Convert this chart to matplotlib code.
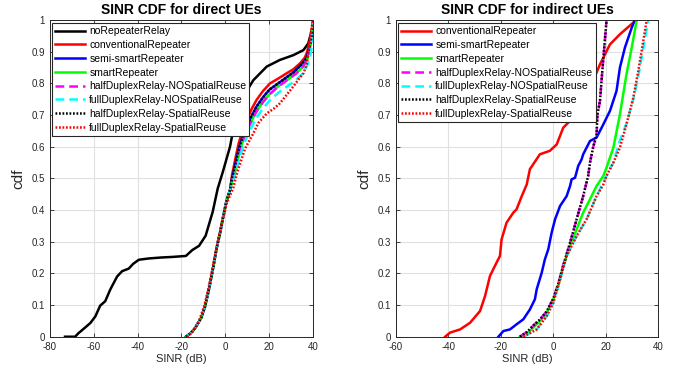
import numpy as np
import matplotlib
matplotlib.use("Agg")
import matplotlib.pyplot as plt

plt.rcParams['font.family'] = ['Liberation Sans', 'DejaVu Sans']
plt.rcParams['axes.unicode_minus'] = False

# ---------------- direct UEs (left) ----------------
d_norelay_x = [-73, -68.4, -66.9, -64, -61.5, -59.2, -57, -54.7, -52.4, -49.3, -47, -44, -42, -39.4,
               -35, -29.5, -24, -18, -15, -12, -9, -5.8, -3.5, -1.2, 2.1, 4.4, 8.1, 12.7, 18.8,
               24.8, 30.9, 35.5, 37.7, 39.3, 40]
d_norelay_y = [0, 0, 0.011, 0.028, 0.043, 0.064, 0.098, 0.112, 0.149, 0.19, 0.207, 0.215, 0.23, 0.243,
               0.247, 0.25, 0.252, 0.255, 0.274, 0.287, 0.319, 0.394, 0.468, 0.52, 0.60, 0.684, 0.758,
               0.81, 0.853, 0.874, 0.889, 0.905, 0.926, 0.968, 1.0]

d_low_x = [-18, -16, -13.8, -11, -9.3, -7.5, -5.5, -4, -2.5, -1, 0.6, 2.1]
d_low_y = [0, 0.01, 0.027, 0.06, 0.095, 0.15, 0.221, 0.28, 0.326, 0.38, 0.432, 0.463]

d_conv_x = d_low_x + [3, 4.4, 6, 8, 9.7, 12, 14.2, 17, 20.3, 24, 27.9, 31, 33.9, 36, 37, 38.5, 39.5, 40]
d_conv_y = d_low_y + [0.51, 0.558, 0.61, 0.655, 0.684, 0.72, 0.748, 0.775, 0.80, 0.815, 0.832, 0.845,
                      0.863, 0.88, 0.895, 0.937, 0.97, 1.0]
d_semi_x = d_low_x + [3, 4.4, 6, 8, 10, 14, 17, 20, 24, 28, 31, 34, 37, 38.5, 39.5, 40]
d_semi_y = d_low_y + [0.50, 0.54, 0.59, 0.635, 0.67, 0.725, 0.755, 0.78, 0.80, 0.82, 0.835, 0.855,
                      0.88, 0.92, 0.96, 1.0]
d_smart_x = d_low_x + [3, 4.4, 6, 8, 10, 14, 17, 20, 24, 28, 32, 35, 37.5, 39, 40]
d_smart_y = d_low_y + [0.49, 0.52, 0.57, 0.62, 0.655, 0.71, 0.74, 0.765, 0.79, 0.81, 0.83, 0.85, 0.88,
                       0.93, 1.0]
d_hdnosr_x = d_smart_x
d_hdnosr_y = d_smart_y
d_fdnosr_x = d_low_x + [3, 4.4, 6, 8, 10, 14, 17, 20, 24, 28, 32, 35, 37.5, 39, 40]
d_fdnosr_y = d_low_y + [0.485, 0.51, 0.555, 0.6, 0.635, 0.69, 0.72, 0.745, 0.77, 0.79, 0.81, 0.83,
                        0.86, 0.9, 1.0]
d_hdsr_x = d_semi_x
d_hdsr_y = d_semi_y
d_fdsr_x = [-17.5, -15, -12, -9.5, -7.5, -5.5, -3.5, -1.5, 0.5, 3.6, 5, 6.6, 9, 12.7, 15, 18.8, 22,
            24.8, 28, 30.9, 33, 35.5, 37, 37.7, 39.3, 40]
d_fdsr_y = [0, 0.015, 0.05, 0.1, 0.16, 0.23, 0.3, 0.36, 0.42, 0.47, 0.51, 0.545, 0.595, 0.642, 0.675,
            0.705, 0.72, 0.737, 0.765, 0.79, 0.81, 0.832, 0.86, 0.895, 0.98, 1.0]

# ---------------- indirect UEs (right) ----------------
i_conv_x = [-41.2, -39.3, -35.5, -31.7, -27.9, -26, -24.1, -21.6, -20.3, -19.7, -17.8, -15.2, -14,
            -12, -10.1, -8.9, -7.6, -5.1, -1.3, 1.3, 3.8, 7.6, 11.4, 15.2, 17.8, 21.6, 25.4, 30.5, 31.8]
i_conv_y = [0, 0.013, 0.023, 0.044, 0.081, 0.128, 0.192, 0.234, 0.255, 0.307, 0.36, 0.392, 0.402,
            0.444, 0.481, 0.529, 0.545, 0.576, 0.587, 0.607, 0.66, 0.692, 0.734, 0.808, 0.86, 0.923,
            0.955, 0.992, 1.0]
i_semi_x = [-20.9, -19, -16.5, -14, -11.4, -8.9, -7, -6.3, -4.4, -3.2, -1.9, -0.6, 0.7, 2.6, 5.1, 6.4,
            7, 8.3, 9.5, 10.8, 11.4, 14, 16.5, 19.1, 21.6, 24.1, 25.4, 27.3, 29.9, 31.1]
i_semi_y = [0, 0.018, 0.023, 0.039, 0.055, 0.086, 0.118, 0.15, 0.202, 0.244, 0.276, 0.329, 0.371,
            0.413, 0.444, 0.476, 0.497, 0.502, 0.539, 0.56, 0.576, 0.618, 0.629, 0.671, 0.713, 0.776,
            0.85, 0.913, 0.976, 1.0]
i_smart_x = [-12.7, -8.9, -5, -2.5, 0, 1.9, 3.8, 6.4, 8.9, 11.4, 14, 16.5, 19.1, 20.3, 22.9, 25.4,
             27.9, 29.9, 31.8]
i_smart_y = [0, 0.018, 0.05, 0.076, 0.118, 0.16, 0.223, 0.286, 0.339, 0.392, 0.434, 0.476, 0.508,
             0.534, 0.597, 0.702, 0.829, 0.913, 1.0]
i_hdsr_x = [-12.7, -10, -7, -5, -2.5, 0, 2, 3.8, 6.4, 8.9, 11.4, 13.3, 14, 15.3, 16.5, 16.8, 17.8,
            18.5, 19.1, 19.8, 20.3]
i_hdsr_y = [0, 0.015, 0.04, 0.055, 0.08, 0.12, 0.17, 0.225, 0.297, 0.371, 0.444, 0.508, 0.55, 0.602,
            0.635, 0.7, 0.744, 0.82, 0.881, 0.95, 1.0]
i_hdnosr_x = i_hdsr_x
i_hdnosr_y = i_hdsr_y
i_fdsr_x = [-11.4, -6.3, -2.5, 0, 2.6, 5.1, 8.9, 12.7, 16.5, 19.1, 20.3, 22.9, 25.4, 27.9, 30.5, 32.4,
            34.3, 35.6]
i_fdsr_y = [0, 0.023, 0.065, 0.107, 0.181, 0.255, 0.318, 0.371, 0.444, 0.481, 0.508, 0.55, 0.597,
            0.671, 0.755, 0.839, 0.934, 1.0]
i_fdnosr_x = [-11.4, -6.3, -2.5, 0, 2.6, 5.1, 8.9, 12.7, 16.5, 20.3, 22.9, 25.4, 28.2, 30.8, 32.8,
              34.7, 36.2]
i_fdnosr_y = [0, 0.023, 0.065, 0.107, 0.181, 0.255, 0.318, 0.371, 0.444, 0.508, 0.55, 0.62, 0.68,
              0.76, 0.84, 0.93, 1.0]

names = ["noRepeaterRelay", "conventionalRepeater", "semi-smartRepeater", "smartRepeater",
         "halfDuplexRelay-NOSpatialReuse", "fullDuplexRelay-NOSpatialReuse",
         "halfDuplexRelay-SpatialReuse", "fullDuplexRelay-SpatialReuse"]
dot = (0, (0.7, 0.7))
styles = {
    "noRepeaterRelay": dict(color="black", ls="-", lw=1.8),
    "conventionalRepeater": dict(color="red", ls="-", lw=1.8),
    "semi-smartRepeater": dict(color="blue", ls="-", lw=1.8),
    "smartRepeater": dict(color="#00ff00", ls="-", lw=1.8),
    "halfDuplexRelay-NOSpatialReuse": dict(color="magenta", ls=(0, (3.5, 2)), lw=1.8),
    "fullDuplexRelay-NOSpatialReuse": dict(color="cyan", ls=(0, (3.5, 2)), lw=1.8),
    "halfDuplexRelay-SpatialReuse": dict(color="black", ls=dot, lw=1.8),
    "fullDuplexRelay-SpatialReuse": dict(color="red", ls=dot, lw=1.8),
}

direct = [(d_norelay_x, d_norelay_y), (d_conv_x, d_conv_y), (d_semi_x, d_semi_y), (d_smart_x, d_smart_y),
          (d_hdnosr_x, d_hdnosr_y), (d_fdnosr_x, d_fdnosr_y), (d_hdsr_x, d_hdsr_y), (d_fdsr_x, d_fdsr_y)]
indirect = [None, (i_conv_x, i_conv_y), (i_semi_x, i_semi_y), (i_smart_x, i_smart_y),
            (i_hdnosr_x, i_hdnosr_y), (i_fdnosr_x, i_fdnosr_y), (i_hdsr_x, i_hdsr_y), (i_fdsr_x, i_fdsr_y)]

fig = plt.figure(figsize=(6.77, 3.75), dpi=100)
ax_l = fig.add_axes([0.0733, 0.1021, 0.3895, 0.8445])
ax_r = fig.add_axes([0.5846, 0.1021, 0.3877, 0.8445])


def style_axes(ax, xlim, title):
    ax.set_xlim(*xlim)
    ax.set_ylim(0, 1)
    ax.set_xticks(np.arange(xlim[0], xlim[1] + 1, 20))
    ax.set_yticks(np.arange(0, 1.01, 0.1))
    ax.set_yticklabels(["0"] + ["%.1f" % v for v in np.arange(0.1, 0.95, 0.1)] + ["1"])
    ax.grid(True, color="#e0e0e0", lw=0.8)
    ax.set_axisbelow(True)
    ax.tick_params(direction="in", top=True, right=True, labelsize=7, colors="#262626",
                   length=3, width=0.6)
    for s in ax.spines.values():
        s.set_color("#262626")
        s.set_linewidth(0.7)
    ax.set_xlabel("SINR (dB)", fontsize=8, color="#262626", labelpad=2)
    ax.set_ylabel("cdf", fontsize=11, color="#262626", labelpad=4)
    ax.set_title(title, fontsize=10, fontweight="bold", pad=4)


for ax, data, xlim, title in [(ax_l, direct, (-80, 40), "SINR CDF for direct UEs"),
                              (ax_r, indirect, (-60, 40), "SINR CDF for indirect UEs")]:
    for name, d in zip(names, data):
        if d is None:
            continue
        ax.plot(d[0], d[1], label=name, **styles[name])
    style_axes(ax, xlim, title)
    leg = ax.legend(loc="upper left", bbox_to_anchor=(0.008, 0.99), fontsize=7.5, frameon=True,
                    fancybox=False, edgecolor="#262626", framealpha=1, borderaxespad=0,
                    handlelength=2.9, handletextpad=0.4, labelspacing=0.36, borderpad=0.3)
    leg.get_frame().set_linewidth(0.8)

fig.savefig("out.png", dpi=100)
